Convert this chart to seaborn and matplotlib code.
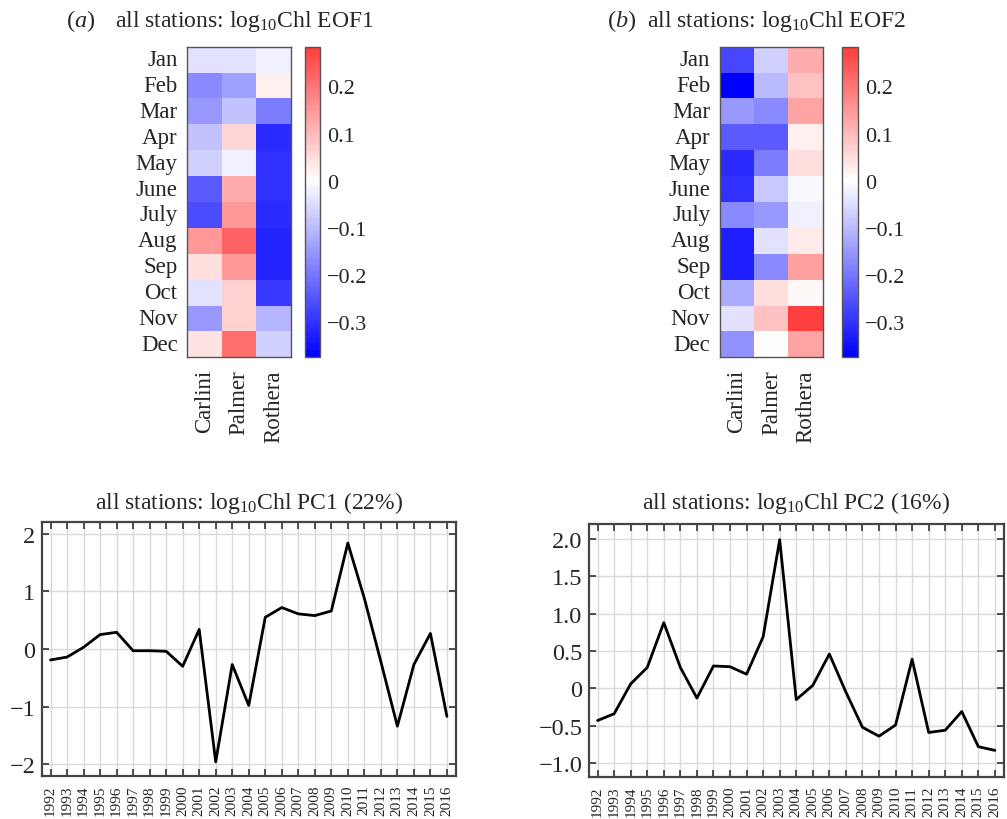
import numpy as np
import pandas as pd
import matplotlib
matplotlib.use('Agg')
import matplotlib.pyplot as plt
import matplotlib.colors as mcolors
import seaborn as sns

# ---- data ----
months = ['Jan', 'Feb', 'Mar', 'Apr', 'May', 'June', 'July', 'Aug', 'Sep', 'Oct', 'Nov', 'Dec']
stations = ['Carlini', 'Palmer', 'Rothera']

# EOF1 loadings per station (Jan..Dec)
eof1_carlini = [-0.04, -0.17, -0.15, -0.09, -0.07, -0.24, -0.26, 0.15, 0.05, -0.04, -0.15, 0.04]
eof1_palmer = [-0.04, -0.14, -0.09, 0.06, -0.02, 0.12, 0.15, 0.23, 0.15, 0.07, 0.07, 0.21]
eof1_rothera = [-0.02, 0.02, -0.19, -0.31, -0.30, -0.30, -0.31, -0.32, -0.32, -0.29, -0.11, -0.07]

# EOF2 loadings per station (Jan..Dec)
eof2_carlini = [-0.27, -0.37, -0.15, -0.24, -0.31, -0.30, -0.17, -0.33, -0.33, -0.12, -0.04, -0.16]
eof2_palmer = [-0.07, -0.10, -0.17, -0.24, -0.19, -0.08, -0.15, -0.04, -0.17, 0.05, 0.09, 0.0]
eof2_rothera = [0.12, 0.09, 0.13, 0.02, 0.05, -0.01, -0.02, 0.03, 0.14, 0.01, 0.28, 0.13]

years = [1992, 1993, 1994, 1995, 1996, 1997, 1998, 1999, 2000, 2001, 2002, 2003, 2004,
         2005, 2006, 2007, 2008, 2009, 2010, 2011, 2012, 2013, 2014, 2015, 2016]
pc1 = [-0.19, -0.14, 0.03, 0.25, 0.29, -0.03, -0.03, -0.04, -0.30, 0.34, -1.96, -0.27, -0.98,
       0.55, 0.72, 0.61, 0.58, 0.66, 1.84, 0.88, -0.22, -1.34, -0.27, 0.27, -1.17]
pc2 = [-0.43, -0.34, 0.06, 0.28, 0.88, 0.28, -0.13, 0.30, 0.29, 0.19, 0.69, 1.99, -0.15,
       0.04, 0.46, -0.05, -0.52, -0.64, -0.49, 0.39, -0.59, -0.56, -0.31, -0.78, -0.83]

cbar_ticks = [0.2, 0.1, 0, -0.1, -0.2, -0.3]
cbar_labels = ['0.2', '0.1', '0', '\u22120.1', '\u22120.2', '\u22120.3']
pc1_ticks = [2, 1, 0, -1, -2]
pc1_labels = ['2', '1', '0', '\u22121', '\u22122']
pc2_ticks = [2.0, 1.5, 1.0, 0.5, 0, -0.5, -1.0]
pc2_labels = ['2.0', '1.5', '1.0', '0.5', '0', '\u22120.5', '\u22121.0']

# ---- style ----
sns.set_style('ticks')
plt.rcParams['font.family'] = ['Liberation Serif', 'DejaVu Serif']
plt.rcParams['mathtext.fontset'] = 'custom'
plt.rcParams['mathtext.rm'] = 'Liberation Serif'
plt.rcParams['mathtext.it'] = 'Liberation Serif:italic'

vmin, vmax = -0.374, 0.284
# bwr with white at zero, top end cut since vmax < |vmin|
cmap = mcolors.LinearSegmentedColormap.from_list(
    'bwr_cut', plt.cm.bwr(np.linspace(0, 0.5 + 0.5 * vmax / abs(vmin), 256)))

W, H = 1007, 820
fig = plt.figure(figsize=(W / 100, H / 100), dpi=100)


def box(x0, y0, x1, y1):
    return [x0 / W, 1 - y1 / H, (x1 - x0) / W, (y1 - y0) / H]


frame_col = '#555555'


def draw_eof(ax, cax, cols):
    df = pd.DataFrame({s: c for s, c in zip(stations, cols)}, index=months)
    sns.heatmap(df, ax=ax, cbar_ax=cax, cmap=cmap, vmin=vmin, vmax=vmax,
                cbar_kws={'ticks': cbar_ticks})
    ax.set_yticklabels(months, rotation=0, fontsize=16.5)
    ax.set_xticklabels(stations, rotation=90, fontsize=16.5)
    ax.tick_params(length=0)
    ax.tick_params(axis='y', pad=7)
    ax.tick_params(axis='x', pad=8.5)
    for sp in ax.spines.values():
        sp.set_visible(True)
        sp.set_color(frame_col)
        sp.set_linewidth(1.0)
    cax.set_yticks(cbar_ticks)
    cax.set_yticklabels(cbar_labels, fontsize=16)
    cax.tick_params(direction='in', length=4, width=0.8, color=frame_col, pad=5)
    cb = ax.collections[0].colorbar
    cb.outline.set_edgecolor(frame_col)
    cb.outline.set_linewidth(1.0)


def draw_pc(ax, vals, ticks, labels, ylim):
    sns.lineplot(x=years, y=vals, ax=ax, color='black', linewidth=2)
    ax.set_xlim(1991.5, 2016.55)
    ax.set_ylim(*ylim)
    ax.set_xticks(years)
    ax.set_xticklabels([str(y) for y in years], rotation=90, fontsize=11)
    ax.set_yticks(ticks)
    ax.set_yticklabels(labels, fontsize=17.5)
    ax.grid(True, color='#d9d9d9', linewidth=1.0)
    ax.tick_params(direction='in', length=5, width=1.2, color='#333333',
                   top=True, right=True)
    ax.tick_params(axis='x', pad=6)
    ax.tick_params(axis='y', pad=5)
    for sp in ax.spines.values():
        sp.set_color('#444444')
        sp.set_linewidth(1.6)


ax1 = fig.add_axes(box(187.3, 47.7, 291, 358.3))
cax1 = fig.add_axes(box(304.7, 47.7, 320, 358.3))
draw_eof(ax1, cax1, [eof1_carlini, eof1_palmer, eof1_rothera])

ax2 = fig.add_axes(box(720, 47.7, 822.7, 358.3))
cax2 = fig.add_axes(box(841.7, 47.7, 857.7, 358.3))
draw_eof(ax2, cax2, [eof2_carlini, eof2_palmer, eof2_rothera])

title_y = 1 - 27 / H
fig.text(66 / W, title_y, r'($\mathit{a}$)', fontsize=17.5, ha='left', va='baseline')
fig.text(115 / W, title_y, r'all stations: log$_{10}$Chl EOF1',
         fontsize=17, ha='left', va='baseline')
fig.text(607 / W, title_y, r'($\mathit{b}$)', fontsize=17.5, ha='left', va='baseline')
fig.text(647 / W, title_y, r'all stations: log$_{10}$Chl EOF2',
         fontsize=17, ha='left', va='baseline')

ax3 = fig.add_axes(box(42.3, 523.3, 456, 776.7))
draw_pc(ax3, pc1, pc1_ticks, pc1_labels, (-2.2, 2.2))
ax4 = fig.add_axes(box(589.3, 525, 1004, 778.3))
draw_pc(ax4, pc2, pc2_ticks, pc2_labels, (-1.19, 2.2))

fig.text((42.3 + 456) / 2 / W, 1 - 509 / H, r'all stations: log$_{10}$Chl PC1 (22%)',
         fontsize=17, ha='center', va='baseline')
fig.text((589.3 + 1004) / 2 / W, 1 - 509 / H, r'all stations: log$_{10}$Chl PC2 (16%)',
         fontsize=17, ha='center', va='baseline')

fig.savefig('out.png', dpi=100, facecolor='white')
